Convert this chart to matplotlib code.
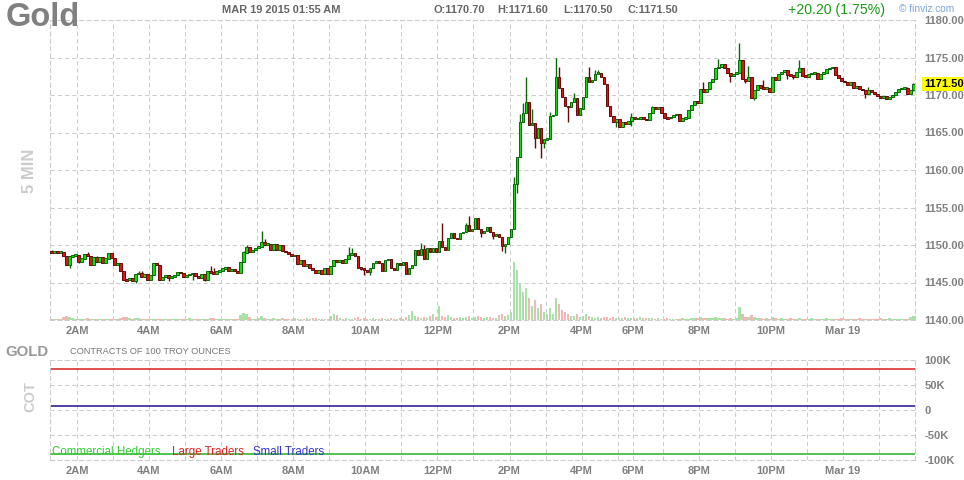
import matplotlib
matplotlib.use("Agg")
import matplotlib.pyplot as plt
from matplotlib.transforms import blended_transform_factory

plt.rcParams['font.family'] = ['Liberation Sans', 'DejaVu Sans']

# ---------------- data ----------------
first_open = 1149.2
closes = [
    1149.0, 1149.1, 1149.0, 1149.1, 1148.6, 1147.4, 1148.5, 1148.6, 1148.7, 1147.8, 1148.2, 1148.8,
    1148.5, 1147.3, 1148.4, 1147.8, 1148.4, 1147.6, 1148.2, 1148.9, 1148.3, 1147.3, 1147.6, 1146.6,
    1145.4, 1145.3, 1145.6, 1145.2, 1146.1, 1146.3, 1145.8, 1146.1, 1145.4, 1146.0, 1147.6, 1147.3,
    1145.4, 1145.8, 1146.0, 1145.6, 1145.8, 1146.0, 1146.4, 1146.3, 1145.7, 1146.0, 1146.1, 1146.3,
    1145.9, 1145.6, 1146.1, 1145.4, 1146.6, 1146.3, 1146.2, 1146.5, 1146.6, 1146.9, 1147.0, 1146.6,
    1146.8, 1146.5, 1146.3, 1147.8, 1149.0, 1149.7, 1149.1, 1149.3, 1149.6, 1149.8, 1150.4, 1150.0,
    1150.2, 1149.4, 1150.1, 1149.3, 1150.0, 1149.2, 1149.1, 1148.8, 1148.5, 1148.7, 1147.5, 1148.0,
    1147.2, 1147.5, 1147.0, 1146.7, 1146.3, 1146.7, 1146.2, 1146.9, 1146.2, 1147.2, 1148.0, 1147.8,
    1148.0, 1147.6, 1148.1, 1148.7, 1148.9, 1148.5, 1147.0, 1146.9, 1146.7, 1146.4, 1146.9, 1147.6,
    1147.8, 1147.6, 1146.6, 1148.0, 1148.1, 1146.9, 1146.7, 1147.6, 1147.3, 1147.8, 1146.2, 1146.9,
    1147.3, 1149.3, 1148.7, 1149.4, 1148.2, 1149.6, 1149.1, 1149.6, 1149.1, 1150.6, 1149.8, 1149.4,
    1151.0, 1151.6, 1150.9, 1150.8, 1151.6, 1151.7, 1152.7, 1151.9, 1152.1, 1153.6, 1152.1, 1151.6,
    1151.9, 1152.4, 1151.8, 1151.2, 1151.5, 1151.1, 1149.9, 1150.2, 1151.1, 1152.1, 1158.1, 1161.7,
    1166.4, 1167.6, 1169.1, 1166.0, 1166.2, 1164.3, 1165.6, 1163.6, 1164.1, 1164.2, 1167.2, 1167.3,
    1172.4, 1170.9, 1169.7, 1168.5, 1168.4, 1169.1, 1169.6, 1167.3, 1168.2, 1169.8, 1172.4, 1171.8,
    1172.0, 1172.8, 1173.0, 1172.4, 1171.5, 1168.5, 1167.2, 1166.4, 1166.8, 1165.7, 1166.4, 1166.2,
    1166.6, 1167.1, 1166.8, 1166.9, 1167.0, 1166.8, 1166.7, 1167.6, 1168.4, 1168.2, 1168.4, 1167.6,
    1167.0, 1166.9, 1167.1, 1167.3, 1167.5, 1166.6, 1166.9, 1167.0, 1168.0, 1168.7, 1169.2, 1168.9,
    1170.8, 1170.4, 1170.8, 1171.8, 1172.1, 1173.6, 1173.7, 1174.1, 1173.6, 1172.9, 1172.5, 1172.8,
    1173.0, 1174.7, 1172.2, 1171.9, 1172.4, 1169.6, 1170.7, 1171.3, 1171.0, 1170.8, 1171.0, 1170.4,
    1172.4, 1172.0, 1172.8, 1173.1, 1173.3, 1172.7, 1172.6, 1172.4, 1173.1, 1173.6, 1172.6, 1172.4,
    1172.8, 1172.9, 1173.0, 1172.2, 1172.8, 1173.0, 1173.5, 1173.6, 1173.7, 1172.7, 1172.3, 1171.9,
    1171.7, 1171.4, 1171.7, 1171.0, 1171.2, 1170.8, 1170.7, 1170.2, 1170.7, 1170.4, 1170.2, 1169.9,
    1169.6, 1169.9, 1169.5, 1169.8, 1170.0, 1170.4, 1170.8, 1170.9, 1171.0, 1170.2, 1170.7, 1171.5,
]
# bars whose wick reaches beyond the body
wick_highs = {0: 1149.3, 12: 1149.1, 15: 1148.6, 19: 1149.0, 29: 1146.6, 30: 1146.5, 53: 1147.2,
              54: 1147.0, 64: 1149.2, 65: 1150.0, 70: 1151.9, 71: 1150.8, 99: 1149.7, 100: 1149.6,
              123: 1150.3, 124: 1150.0, 130: 1153.0, 138: 1153.0, 139: 1153.9, 154: 1159.1,
              156: 1167.5, 157: 1168.9, 158: 1172.4, 160: 1168.1, 166: 1167.8, 168: 1175.0,
              169: 1173.7, 174: 1170.3, 179: 1173.7, 181: 1173.4, 182: 1173.4, 193: 1167.6,
              200: 1168.5, 217: 1171.8, 222: 1174.8, 229: 1176.9, 232: 1173.9, 237: 1172.0,
              249: 1174.7, 272: 1171.1, 285: 1171.1, 287: 1171.6}
wick_lows = {6: 1147.0, 9: 1147.6, 28: 1145.0, 39: 1145.2, 47: 1145.4, 51: 1145.2, 103: 1146.7,
             104: 1146.0, 106: 1146.0, 143: 1151.1, 147: 1150.8, 150: 1149.2, 151: 1148.9,
             155: 1156.9, 161: 1162.9, 163: 1161.6, 164: 1163.0, 172: 1166.4, 188: 1165.7,
             193: 1165.9, 226: 1171.8, 231: 1171.6, 234: 1169.3, 245: 1172.1, 247: 1172.1,
             271: 1169.6, 287: 1170.5}
volume = [
    30, 30, 30, 30, 90, 120, 90, 60, 30, 30, 30, 30,
    60, 30, 30, 30, 30, 30, 30, 30, 30, 30, 30, 60,
    90, 90, 60, 30, 60, 60, 30, 30, 30, 30, 30, 30,
    30, 30, 30, 30, 30, 30, 30, 30, 30, 30, 60, 30,
    30, 30, 30, 30, 30, 60, 60, 30, 30, 30, 30, 30,
    30, 30, 30, 150, 210, 180, 90, 30, 30, 60, 120, 60,
    30, 30, 60, 30, 30, 60, 30, 30, 30, 60, 30, 30,
    30, 60, 30, 60, 60, 30, 30, 30, 30, 120, 180, 150,
    60, 30, 60, 30, 30, 60, 90, 30, 60, 30, 30, 60,
    30, 30, 60, 30, 30, 60, 30, 30, 60, 30, 90, 150,
    270, 120, 90, 60, 90, 60, 120, 180, 90, 420, 120, 90,
    150, 90, 60, 60, 90, 60, 90, 120, 60, 90, 120, 90,
    60, 90, 90, 60, 60, 150, 180, 120, 150, 240, 1740, 1500,
    1080, 840, 960, 660, 420, 600, 360, 480, 240, 180, 360, 180,
    660, 480, 300, 240, 180, 120, 120, 180, 90, 120, 180, 120,
    90, 60, 90, 60, 90, 90, 60, 90, 60, 60, 60, 90,
    60, 60, 60, 60, 90, 60, 60, 60, 60, 30, 60, 30,
    30, 60, 30, 30, 30, 30, 60, 30, 30, 60, 60, 60,
    90, 60, 60, 60, 60, 90, 60, 60, 60, 30, 60, 30,
    60, 390, 180, 90, 90, 150, 90, 60, 60, 30, 60, 30,
    90, 60, 30, 60, 30, 30, 60, 30, 30, 60, 30, 30,
    30, 60, 30, 30, 30, 30, 60, 30, 30, 30, 30, 60,
    30, 30, 30, 30, 30, 60, 30, 30, 30, 30, 30, 30,
    60, 30, 30, 60, 30, 30, 30, 30, 30, 30, 90, 120,
]
# bar index at which each hour starts (5-min bars, trading break before 6PM)
hour_starts = [9, 21, 33, 45, 57, 69, 81, 93, 105, 117, 129, 141, 153, 165, 177, 189,
               194, 204, 216, 228, 240, 252, 264, 276]
hour_labels = ['2AM', '', '4AM', '', '6AM', '', '8AM', '', '10AM', '', '12PM', '',
               '2PM', '', '4PM', '', '6PM', '', '8PM', '', '10PM', '', 'Mar 19', '']
price_ticks = [1140, 1145, 1150, 1155, 1160, 1165, 1170, 1175, 1180]
cot_ticks = [-100000, -50000, 0, 50000, 100000]
cot_tick_labels = ['-100K', '-50K', '0', '50K', '100K']
cot_commercial = -87000
cot_large = 83000
cot_small = 8500
last_price = 1171.50
header_date = 'MAR 19 2015 01:55 AM'
header_ohlc = ['O:1170.70', 'H:1171.60', 'L:1170.50', 'C:1171.50']
header_change = '+20.20 (1.75%)'

# ---------------- figure ----------------
W, H = 964, 480
fig = plt.figure(figsize=(W / 100, H / 100), dpi=100)
fig.patch.set_facecolor('white')

def rect(x0, y0, x1, y1):
    return [x0 / W, 1 - y1 / H, (x1 - x0) / W, (y1 - y0) / H]

n = len(closes)
opens = [first_open] + closes[:-1]
xs = [i + 0.5 for i in range(n)]
up = [c >= o for o, c in zip(opens, closes)]

GRID = '#cccccc'
DASH = (0, (4, 3))
LBL = '#808080'

# volume axes (behind)
axv = fig.add_axes(rect(50, 20, 915, 320))
axv.set_xlim(0, n)
axv.set_ylim(0, 9000)
axv.axis('off')
axv.bar(xs, volume, width=0.85,
        color=['#a8e2a8' if u else '#f5b6b6' for u in up], linewidth=0)

# main price axes
ax = fig.add_axes(rect(50, 20, 915, 320))
ax.set_facecolor('none')
ax.set_xlim(0, n)
ax.set_ylim(1140, 1180)
ax.set_xticks(hour_starts)
ax.set_xticklabels(hour_labels)
ax.set_yticks(price_ticks)
ax.set_yticklabels([f'{v:.2f}' for v in price_ticks])
ax.yaxis.tick_right()
ax.tick_params(axis='both', length=0, labelcolor=LBL, labelsize=8)
ax.tick_params(axis='y', pad=7)
ax.tick_params(axis='x', pad=4)
for lab in ax.get_xticklabels() + ax.get_yticklabels():
    lab.set_fontweight('bold')
ax.grid(True, color=GRID, linestyle=DASH, linewidth=0.75)
ax.set_axisbelow(True)
for s in ax.spines.values():
    s.set_color(GRID)
    s.set_linestyle(DASH)
    s.set_linewidth(0.75)

# candles
for i in range(n):
    o, c = opens[i], closes[i]
    hi = wick_highs.get(i, max(o, c))
    lo = wick_lows.get(i, min(o, c))
    edge = '#086808' if up[i] else '#6a0808'
    fill = '#10dc10' if up[i] else '#e01212'
    ax.vlines(xs[i], lo, hi, color=edge, linewidth=1.0, zorder=3)
    bot = min(o, c)
    h = abs(c - o)
    if h < 0.22:
        bot = (o + c) / 2 - 0.11
        h = 0.22
    ax.bar(xs[i], h, bottom=bot, width=0.9, color=fill, edgecolor=edge,
           linewidth=0.7, zorder=4)

# last price tag
tr = blended_transform_factory(fig.transFigure, ax.transData)
ax.text(924 / W, last_price, f'{last_price:.2f}', transform=tr, ha='left', va='center',
        fontsize=8, fontweight='bold', color='black', zorder=10, clip_on=False,
        bbox=dict(boxstyle='square,pad=0.18', fc='#ffff00', ec='none'))

# COT axes
axc = fig.add_axes(rect(50, 360, 915, 460))
axc.set_xlim(0, n)
axc.set_ylim(-100000, 100000)
axc.set_xticks(hour_starts)
axc.set_xticklabels(hour_labels)
axc.set_yticks(cot_ticks)
axc.set_yticklabels(cot_tick_labels)
axc.yaxis.tick_right()
axc.tick_params(axis='both', length=0, labelcolor=LBL, labelsize=8)
axc.tick_params(axis='y', pad=7)
axc.tick_params(axis='x', pad=4)
for lab in axc.get_xticklabels() + axc.get_yticklabels():
    lab.set_fontweight('bold')
axc.grid(True, color=GRID, linestyle=DASH, linewidth=0.75)
axc.set_axisbelow(True)
for s in axc.spines.values():
    s.set_color(GRID)
    s.set_linestyle(DASH)
    s.set_linewidth(0.75)
axc.plot([0, n], [cot_large, cot_large], color='#d42020', linewidth=1.1)
axc.plot([0, n], [cot_small, cot_small], color='#1e1090', linewidth=1.1)
axc.plot([0, n], [cot_commercial, cot_commercial], color='#22b522', linewidth=1.1)

# ---------------- texts ----------------
def ftext(x, y, s, **kw):
    fig.text(x / W, 1 - y / H, s, **kw)

ftext(6, 18, 'Gold', fontsize=23.5, fontweight='bold', color='#808080', va='center', ha='left')
ftext(222, 10, header_date, fontsize=7.9, fontweight='bold', color='#666666', va='center')
for xpos, s in zip([433, 497, 563, 628], header_ohlc):
    ftext(xpos, 10, s, fontsize=7.9, fontweight='bold', color='#666666', va='center')
ftext(788, 10, header_change, fontsize=10.2, color='#1a9a1a', va='center')
ftext(899, 9, '\u00a9 finviz.com', fontsize=7.3, color='#7aa6d6', va='center')

ftext(30, 171, '5 MIN', fontsize=12, fontweight='bold', color='#cccccc', rotation=90,
      ha='center', va='center')
ftext(5, 352, 'GOLD', fontsize=10.8, fontweight='bold', color='#999999', va='center')
ftext(70, 352, 'CONTRACTS OF 100 TROY OUNCES', fontsize=6.7, color='#777777', va='center')
ftext(30, 397, 'COT', fontsize=10.5, fontweight='bold', color='#cccccc', rotation=90,
      ha='center', va='center')
ftext(52, 452, 'Commercial Hedgers', fontsize=8.3, color='#33cc33', va='center')
ftext(172, 452, 'Large Traders', fontsize=8.3, color='#dd2222', va='center')
ftext(253, 452, 'Small Traders', fontsize=8.3, color='#3333cc', va='center')

fig.savefig('out.png', dpi=100, facecolor='white')
